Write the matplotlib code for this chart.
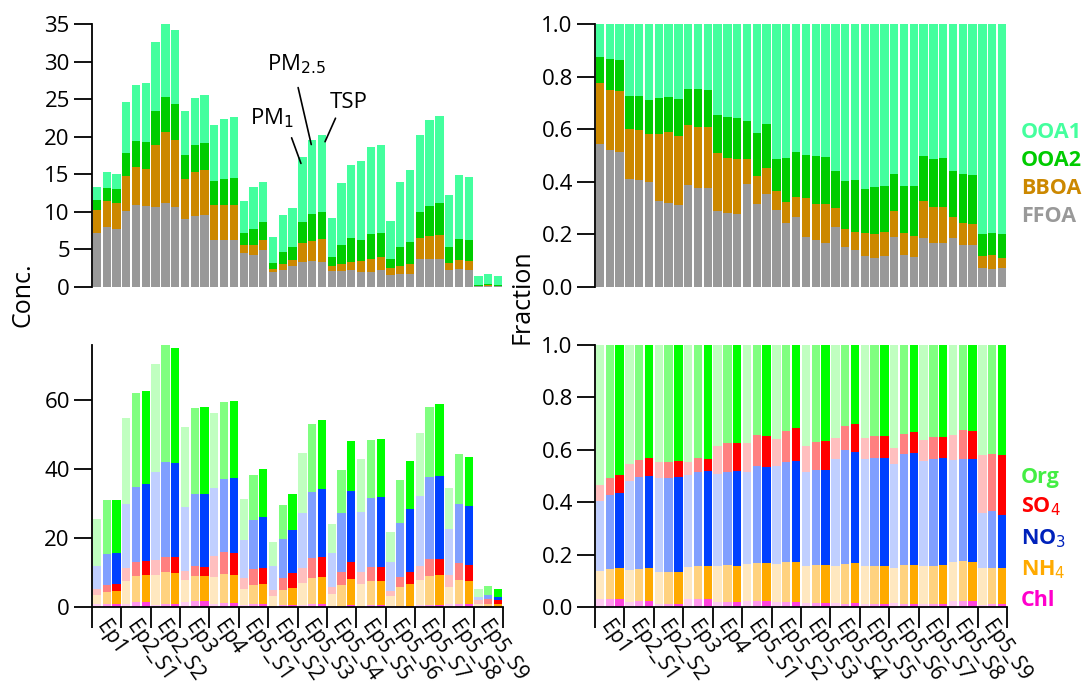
import numpy as np
import matplotlib.pyplot as plt
import matplotlib.transforms as mtransforms

plt.rcParams['font.family'] = ['Open Sans', 'DejaVu Sans']

# 14 episodes x 3 size fractions (PM1, PM2.5, TSP)
episodes = ['Ep1', 'Ep2_S1', 'Ep2_S2', 'Ep3', 'Ep4', 'Ep5_S1', 'Ep5_S2', 'Ep5_S3',
            'Ep5_S4', 'Ep5_S5', 'Ep5_S6', 'Ep5_S7', 'Ep5_S8', 'Ep5_S9']
sizes = ['PM1', 'PM2.5', 'TSP']

# organic aerosol total (top left)
oa_total = [13.27, 15.26, 15.08, 24.58, 26.84, 27.11, 32.56, 34.96, 34.16,
            23.38, 25.11, 25.51, 21.52, 22.32, 22.58, 11.40, 13.27, 13.93,
            6.61, 9.54, 10.47, 17.26, 19.52, 20.19, 9.14, 13.80, 16.19,
            16.73, 18.59, 18.86, 8.74, 13.93, 15.53, 20.19, 22.18, 22.72,
            12.20, 14.86, 14.60, 1.42, 1.69, 1.42]

# OA factor fractions (top right)
ffoa = [.543, .520, .513, .409, .406, .398, .326, .319, .311, .387, .377, .377,
        .288, .280, .277, .392, .316, .354, .293, .242, .265, .189, .179, .166,
        .227, .151, .140, .118, .110, .118, .189, .121, .113, .187, .166, .166,
        .187, .159, .159, .072, .067, .072]
bboa = [.232, .229, .232, .191, .190, .183, .255, .270, .263, .228, .230, .231,
        .221, .211, .209, .094, .107, .098, .071, .080, .076, .149, .136, .149,
        .072, .069, .069, .086, .091, .091, .099, .083, .080, .139, .137, .137,
        .078, .083, .080, .046, .054, .038]
ooa2 = [.099, .118, .118, .126, .130, .130, .137, .133, .140, .138, .146, .141,
        .145, .155, .156, .145, .162, .167, .122, .168, .172, .163, .182, .179,
        .141, .182, .197, .168, .178, .174, .141, .179, .190, .171, .183, .187,
        .175, .187, .186, .083, .083, .091]
ooa1 = [.126, .133, .137, .274, .274, .289, .282, .278, .286, .247, .247, .251,
        .346, .354, .358, .369, .415, .381, .514, .510, .487, .499, .503, .506,
        .560, .598, .594, .628, .621, .617, .571, .617, .617, .503, .514, .510,
        .560, .571, .575, .799, .796, .799]

# total mass (bottom left)
pm_total = [25.6, 30.9, 31.1, 54.7, 61.9, 62.5, 70.4, 75.8, 74.9, 52.1, 57.6, 57.9,
            56.1, 59.3, 59.6, 31.2, 38.2, 40.0, 18.7, 29.5, 32.7, 44.5, 52.9, 54.1,
            24.0, 39.6, 48.0, 42.8, 48.3, 48.6, 21.6, 36.7, 42.3, 50.3, 57.9, 58.7,
            34.4, 44.3, 43.4, 5.1, 6.0, 5.1]

# species fractions (bottom right)
chl = [.029, .029, .029, .018, .022, .022, .010, .010, .010, .029, .029, .029,
       .018, .018, .018, .022, .022, .022, .018, .018, .018, .014, .014, .014,
       .014, .010, .014, .010, .010, .010, .014, .010, .010, .010, .010, .010,
       .022, .022, .022, .006, .010, .010]
nh4 = [.107, .115, .119, .122, .122, .126, .122, .122, .122, .123, .126, .126,
       .137, .141, .137, .141, .145, .145, .145, .153, .153, .141, .145, .145,
       .141, .153, .153, .145, .145, .145, .134, .149, .149, .145, .145, .149,
       .149, .153, .149, .142, .138, .138]
no3 = [.267, .283, .286, .340, .352, .353, .361, .361, .364, .351, .360, .363,
       .353, .356, .363, .352, .371, .367, .375, .382, .386, .360, .363, .363,
       .409, .437, .424, .409, .414, .414, .397, .424, .428, .402, .409, .410,
       .391, .389, .393, .210, .218, .202]
so4 = [.062, .065, .069, .065, .065, .067, .060, .060, .061, .050, .053, .046,
       .106, .110, .107, .110, .118, .118, .103, .118, .126, .099, .107, .111,
       .081, .090, .107, .081, .083, .083, .061, .077, .081, .080, .084, .079,
       .094, .111, .107, .222, .217, .230]
org = [.535, .508, .497, .455, .439, .432, .447, .447, .443, .447, .432, .436,
       .386, .375, .375, .375, .344, .348, .359, .329, .317, .386, .371, .367,
       .355, .310, .302, .355, .348, .348, .394, .340, .332, .363, .352, .352,
       .344, .325, .329, .420, .417, .420]

oa_colors = {'FFOA': '#999999', 'BBOA': '#CC8800', 'OOA2': '#00CC00', 'OOA1': '#44FF9E'}
# PM1 / PM2.5 / TSP shades
sp_colors = {
    'Chl': ['#FFCCF2', '#FF99EE', '#FF44DD'],
    'NH4': ['#FFE8C0', '#FFD27F', '#FFAA00'],
    'NO3': ['#C0CFFF', '#809FFF', '#0040FF'],
    'SO4': ['#FFBFBF', '#FF8080', '#FF0000'],
    'Org': ['#C0FFC0', '#80FF80', '#00FF00'],
}

n = len(oa_total)
x = np.arange(n)
w = 0.85

oa_frac = np.array([ffoa, bboa, ooa2, ooa1])
oa_frac = oa_frac / oa_frac.sum(axis=0)
oa_abs = oa_frac * np.array(oa_total)
oa_names = ['FFOA', 'BBOA', 'OOA2', 'OOA1']

sp = {'Chl': np.array(chl), 'NH4': np.array(nh4), 'NO3': np.array(no3),
      'SO4': np.array(so4), 'Org': np.array(org)}
ssum = sum(sp.values())
sp = {k: v / ssum for k, v in sp.items()}

fig = plt.figure(figsize=(10.88, 6.86), dpi=100)
W, H = 1088, 686


def add_ax(l, t, r, b):
    return fig.add_axes([l / W, 1 - b / H, (r - l) / W, (b - t) / H])


ax1 = add_ax(92, 24, 503, 287)
ax2 = add_ax(595, 24, 1007, 287)
ax3 = add_ax(92, 345, 503, 607)
ax4 = add_ax(595, 345, 1007, 607)

# top left: absolute OA factors
bottom = np.zeros(n)
for k, name in enumerate(oa_names):
    ax1.bar(x, oa_abs[k], w, bottom=bottom, color=oa_colors[name], linewidth=0)
    bottom += oa_abs[k]

# top right: OA fractions
bottom = np.zeros(n)
for k, name in enumerate(oa_names):
    ax2.bar(x, oa_frac[k], w, bottom=bottom, color=oa_colors[name], linewidth=0)
    bottom += oa_frac[k]

shade = [i % 3 for i in range(n)]
tot = np.array(pm_total)

# bottom left: absolute species
bottom = np.zeros(n)
for name in ['Chl', 'NH4', 'SO4', 'NO3', 'Org']:
    vals = sp[name] * tot
    cols = [sp_colors[name][s] for s in shade]
    ax3.bar(x, vals, w, bottom=bottom, color=cols, linewidth=0)
    bottom += vals

# bottom right: species fractions
bottom = np.zeros(n)
for name in ['Chl', 'NH4', 'NO3', 'SO4', 'Org']:
    cols = [sp_colors[name][s] for s in shade]
    ax4.bar(x, sp[name], w, bottom=bottom, color=cols, linewidth=0)
    bottom += sp[name]

bounds = np.arange(0, n + 1, 3) - 0.5
centers = np.arange(1, n, 3)

for ax in (ax1, ax2, ax3, ax4):
    ax.set_xlim(-0.5, n - 0.5)
    for s in ('top', 'right'):
        ax.spines[s].set_visible(False)
    ax.spines['left'].set_linewidth(1.3)
    ax.tick_params(axis='y', direction='out', length=13, width=1.3, labelsize=16, pad=3)

for ax in (ax1, ax2):
    ax.spines['bottom'].set_visible(False)
    ax.set_xticks([])

shift = mtransforms.ScaledTranslation(3 / 100, 0, fig.dpi_scale_trans)
for ax in (ax3, ax4):
    ax.spines['bottom'].set_linewidth(1.3)
    ax.set_xticks(bounds)
    ax.set_xticklabels([])
    ax.set_xticks(centers, minor=True)
    ax.set_xticklabels(episodes, minor=True, rotation=-55, ha='left', va='top',
                       rotation_mode='anchor', fontsize=15)
    ax.tick_params(axis='x', which='major', direction='out', length=15, width=1.3)
    ax.tick_params(axis='x', which='minor', length=0, pad=7)
    for lab in ax.get_xticklabels(minor=True):
        lab.set_transform(lab.get_transform() + shift)

ax1.set_ylim(0, 35)
ax1.set_yticks(np.arange(0, 36, 5))
ax3.set_ylim(0, max(pm_total))
ax3.set_yticks([0, 20, 40, 60])
for ax in (ax2, ax4):
    ax.set_ylim(0, 1)
    ax.set_yticks(np.arange(0, 1.01, 0.2))
    ax.set_yticklabels(['0.0', '0.2', '0.4', '0.6', '0.8', '1.0'])

# size labels pointing at the Ep5_S3 bars
ax1.text(17.9, 22.4, 'PM$_1$', fontsize=16, ha='center', va='center')
ax1.text(20.4, 29.7, 'PM$_{2.5}$', fontsize=16, ha='center', va='center')
ax1.text(25.7, 24.6, 'TSP', fontsize=16, ha='center', va='center')
ax1.annotate('', xy=(20.95, 16.1), xytext=(19.8, 20.2), arrowprops=dict(arrowstyle='-', lw=1.2))
ax1.annotate('', xy=(21.97, 18.6), xytext=(20.5, 26.9), arrowprops=dict(arrowstyle='-', lw=1.2))
ax1.annotate('', xy=(23.2, 19.0), xytext=(24.5, 22.8), arrowprops=dict(arrowstyle='-', lw=1.2))

fig.text(23 / W, 1 - 295 / H, 'Conc.', rotation=90, ha='center', va='center', fontsize=18)
fig.text(522 / W, 1 - 297 / H, 'Fraction', rotation=90, ha='center', va='center', fontsize=18)

# legends as coloured text
oa_leg = [('OOA1', '#44FF9E', 132), ('OOA2', '#00CC00', 161), ('BBOA', '#CC8800', 189),
          ('FFOA', '#999999', 217)]
for txt, c, yy in oa_leg:
    fig.text(1021 / W, 1 - yy / H, txt, color=c, fontsize=15.5, fontweight='bold', va='center')

sp_leg = [('Org', '#44EE44', 477), ('SO$_4$', '#FF0000', 507), ('NO$_3$', '#0022BB', 539),
          ('NH$_4$', '#FFAA00', 570), ('Chl', '#FF00CC', 600)]
for txt, c, yy in sp_leg:
    fig.text(1021 / W, 1 - yy / H, txt, color=c, fontsize=15.5, fontweight='bold', va='center')

fig.savefig('out.png', dpi=100)
